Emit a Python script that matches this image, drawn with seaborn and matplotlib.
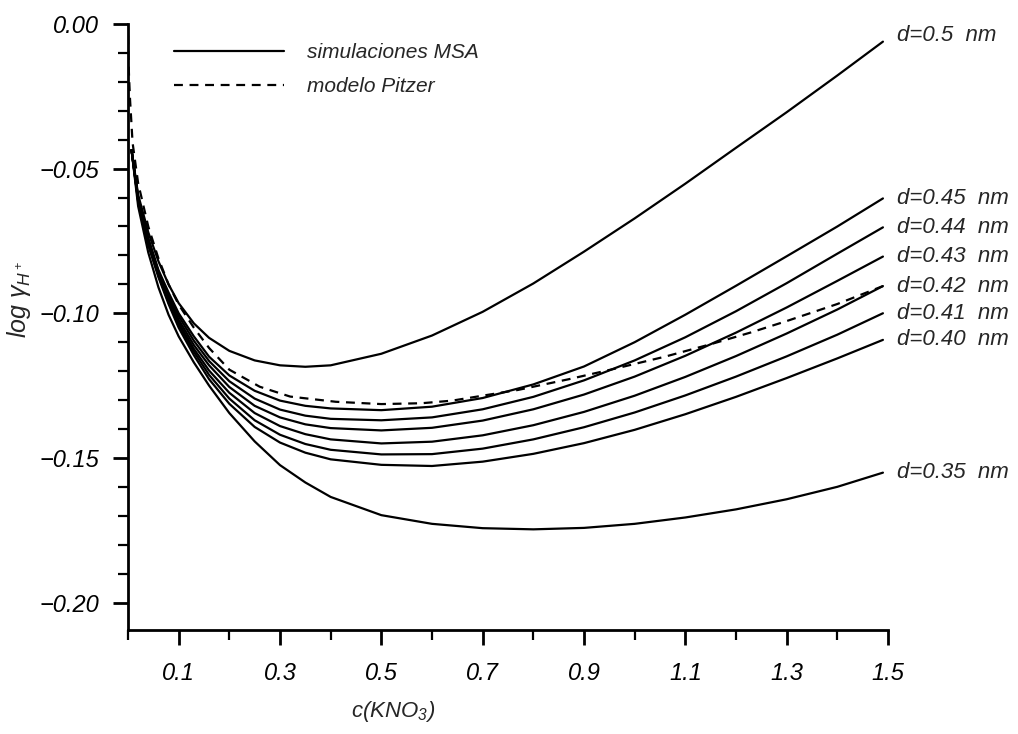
import numpy as np
import pandas as pd
import matplotlib
matplotlib.use("Agg")
import matplotlib.pyplot as plt
from matplotlib.ticker import FixedLocator, MultipleLocator, FuncFormatter
from matplotlib.lines import Line2D
import seaborn as sns

# ---------------- data ----------------
c_msa = [0.007, 0.02, 0.04, 0.06, 0.08, 0.10, 0.13, 0.16, 0.20, 0.25, 0.30, 0.35,
         0.40, 0.50, 0.60, 0.70, 0.80, 0.90, 1.00, 1.10, 1.20, 1.30, 1.40, 1.49]

d050 = [-0.0436, -0.059, -0.072, -0.082, -0.090, -0.0965, -0.1035, -0.1085, -0.1130, -0.1163, -0.1180, -0.1185,
        -0.1180, -0.1140, -0.1077, -0.0995, -0.0897, -0.0787, -0.0672, -0.0552, -0.0428, -0.0305, -0.0178, -0.0061]
d045 = [-0.0436, -0.060, -0.074, -0.085, -0.0928, -0.1000, -0.1080, -0.1150, -0.1215, -0.1268, -0.1302, -0.1320,
        -0.1329, -0.1335, -0.1323, -0.1293, -0.1246, -0.1184, -0.1100, -0.1005, -0.0905, -0.0803, -0.0700, -0.0603]
d044 = [-0.0436, -0.060, -0.0745, -0.0855, -0.0938, -0.1010, -0.1095, -0.1165, -0.1235, -0.1295, -0.1333, -0.1354,
        -0.1365, -0.1370, -0.1360, -0.1332, -0.1289, -0.1232, -0.1163, -0.1083, -0.0993, -0.0896, -0.0794, -0.0703]
d043 = [-0.0436, -0.0605, -0.075, -0.086, -0.0948, -0.1022, -0.1110, -0.1180, -0.1255, -0.1320, -0.1360, -0.1384,
        -0.1397, -0.1405, -0.1396, -0.1371, -0.1332, -0.1281, -0.1219, -0.1147, -0.1067, -0.0980, -0.0888, -0.0804]
d042 = [-0.0436, -0.061, -0.0755, -0.0865, -0.0957, -0.1032, -0.1123, -0.1198, -0.1275, -0.1345, -0.1390, -0.1418,
        -0.1436, -0.1450, -0.1444, -0.1422, -0.1387, -0.1341, -0.1285, -0.1220, -0.1148, -0.1070, -0.0987, -0.0906]
d041 = [-0.0436, -0.061, -0.076, -0.087, -0.0963, -0.1040, -0.1133, -0.1213, -0.1295, -0.1370, -0.1420, -0.1452,
        -0.1472, -0.1488, -0.1487, -0.1468, -0.1436, -0.1394, -0.1343, -0.1284, -0.1219, -0.1149, -0.1074, -0.1000]
d040 = [-0.0436, -0.0615, -0.0765, -0.0875, -0.0968, -0.1050, -0.1145, -0.1228, -0.1313, -0.1393, -0.1447, -0.1482,
        -0.1505, -0.1524, -0.1528, -0.1513, -0.1486, -0.1449, -0.1403, -0.1349, -0.1289, -0.1224, -0.1156, -0.1092]
d035 = [-0.0436, -0.063, -0.079, -0.091, -0.1005, -0.1080, -0.1170, -0.1250, -0.1345, -0.1443, -0.1525, -0.1585,
        -0.1635, -0.1698, -0.1728, -0.1743, -0.1747, -0.1742, -0.1728, -0.1706, -0.1678, -0.1643, -0.1600, -0.1551]

curve_labels = ["d=0.5  nm", "d=0.45  nm", "d=0.44  nm", "d=0.43  nm",
                "d=0.42  nm", "d=0.41  nm", "d=0.40  nm", "d=0.35  nm"]
curves = [d050, d045, d044, d043, d042, d041, d040, d035]

c_pitzer = [0.0001, 0.0005, 0.002, 0.004, 0.009, 0.02, 0.04, 0.06, 0.08, 0.10, 0.13, 0.16, 0.20, 0.26, 0.32,
            0.41, 0.50, 0.58, 0.64, 0.77, 0.87, 0.96, 1.06, 1.15, 1.23, 1.30, 1.40, 1.49]
pitzer = [-0.004, -0.009, -0.018, -0.026, -0.041, -0.055, -0.070, -0.081, -0.090, -0.097, -0.1050, -0.1120,
          -0.1195, -0.1254, -0.1288, -0.1306, -0.1314, -0.1311, -0.1302, -0.1265, -0.1228, -0.1192,
          -0.1150, -0.1107, -0.1066, -0.1027, -0.0968, -0.0906]

x_major = [0.1, 0.3, 0.5, 0.7, 0.9, 1.1, 1.3, 1.5]
y_major = [0.00, -0.05, -0.10, -0.15, -0.20]

legend_labels = ["simulaciones MSA", "modelo Pitzer"]

# ---------------- style ----------------
sns.set_theme(style="ticks")
plt.rcParams["font.family"] = ["Liberation Sans", "DejaVu Sans"]
plt.rcParams["font.style"] = "italic"
plt.rcParams["mathtext.fontset"] = "custom"
plt.rcParams["mathtext.rm"] = "Liberation Sans:italic"
plt.rcParams["mathtext.it"] = "Liberation Sans:italic"

FS_TICK = 17
FS = 16
LW = 1.6
DASH = (0, (4, 3))

fig = plt.figure(figsize=(10.18, 7.34), dpi=100)
ax = fig.add_axes([128 / 1018, 1 - 630 / 734, 760 / 1018, 606 / 734])

for vals in curves:
    sns.lineplot(x=c_msa, y=vals, ax=ax, color="black", lw=LW, estimator=None, sort=False)
sns.lineplot(x=c_pitzer, y=pitzer, ax=ax, color="black", lw=LW, estimator=None, sort=False,
             linestyle=DASH)

ax.set_xlim(0, 1.5)
ax.set_ylim(-0.2095, 0.0)

# right-hand labels
for lab, vals in zip(curve_labels, curves):
    dy = 0.002 if lab.startswith("d=0.5 ") else 0.0
    ax.text(1.518, vals[-1] + dy, lab, fontsize=FS, style="italic", va="center", ha="left",
            clip_on=False)

# axes
for s in ["top", "right"]:
    ax.spines[s].set_visible(False)
for s in ["left", "bottom"]:
    ax.spines[s].set_linewidth(2.0)
    ax.spines[s].set_color("black")

ax.xaxis.set_major_locator(FixedLocator(x_major))
ax.xaxis.set_minor_locator(MultipleLocator(0.1))
ax.yaxis.set_major_locator(FixedLocator(y_major))
ax.yaxis.set_minor_locator(MultipleLocator(0.01))
ax.xaxis.set_major_formatter(FuncFormatter(lambda v, p: f"{v:.1f}"))
ax.yaxis.set_major_formatter(FuncFormatter(lambda v, p: f"{v:.2f}".replace("-", "\u2212")))

ax.tick_params(axis="both", which="major", direction="out", length=11, width=2, colors="black",
               labelsize=FS_TICK)
ax.tick_params(axis="both", which="minor", direction="out", length=7, width=1.6, colors="black")
ax.tick_params(axis="x", which="major", pad=12)
ax.tick_params(axis="y", which="major", pad=10)
for t in ax.get_xticklabels() + ax.get_yticklabels():
    t.set_fontstyle("italic")

ax.set_xlabel(r"c(KNO$_3$)", fontsize=FS, style="italic")
ax.set_ylabel(r"log $\gamma_{H^+}$", fontsize=18, style="italic")
ax.yaxis.label.set_va("center")
ax.xaxis.label.set_va("center")
ax.xaxis.set_label_coords(0.349, -0.135)
ax.yaxis.set_label_coords(-0.143, 0.545)

handles = [Line2D([], [], color="black", lw=LW),
           Line2D([], [], color="black", lw=LW, linestyle=DASH)]
leg = ax.legend(handles, legend_labels, loc="upper left", bbox_to_anchor=(0.041, 0.993),
                frameon=False, fontsize=15, handlelength=5.3, handletextpad=1.1,
                labelspacing=0.75, borderpad=0.2)
for t in leg.get_texts():
    t.set_fontstyle("italic")

fig.savefig("out.png", dpi=100, facecolor="white")
